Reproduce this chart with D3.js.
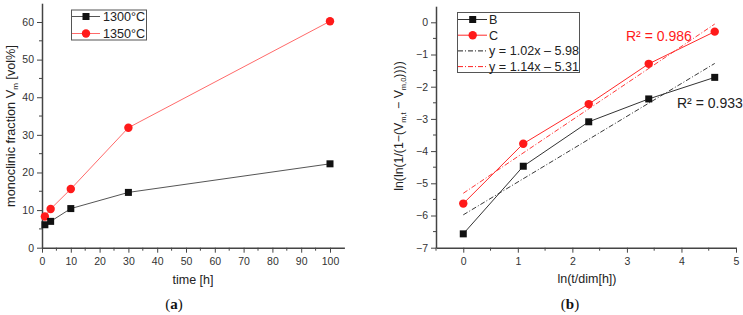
<!DOCTYPE html>
<html>
<head>
<meta charset="utf-8">
<script src="https://cdn.jsdelivr.net/npm/d3@7"></script>
<style>
body { margin: 0; background: #fff; }
text { font-family: "Liberation Sans", Arial, sans-serif; }
</style>
</head>
<body>
<svg id="chart" width="743" height="315"></svg>
<script>
// panel (a)
var timeH = [1, 3, 10, 30, 100];
var frac1300 = [6.1, 7.0, 10.4, 14.7, 22.3];
var frac1350 = [8.3, 10.3, 15.6, 31.9, 60.2];
var ticksA_x = [0, 10, 20, 30, 40, 50, 60, 70, 80, 90, 100];
var ticksA_y = [0, 10, 20, 30, 40, 50, 60];

// panel (b)
var lnT = [0, 1.10, 2.30, 3.40, 4.61];
var valB = [-6.57, -4.47, -3.09, -2.38, -1.71];
var valC = [-5.63, -3.77, -2.54, -1.29, -0.29];
var fitB = {slope: 1.02, icpt: -5.98, label: "y = 1.02x \u2013 5.98"};
var fitC = {slope: 1.14, icpt: -5.31, label: "y = 1.14x \u2013 5.31"};
var fitRange = [0, 4.61];
var ticksB_x = [0, 1, 2, 3, 4, 5];
var ticksB_y = [0, -1, -2, -3, -4, -5, -6, -7];

var svg = d3.select("#chart");
var axisCol = "#444";

function drawAxes(g, x, y, xt, yt, xminor, yminor, fmt) {
    var xr = x.range(), yr = y.range();
    // minor ticks
    g.selectAll(".mx").data(xminor).enter().append("line")
        .attr("x1", d => x(d)).attr("x2", d => x(d))
        .attr("y1", yr[0]).attr("y2", yr[0] + 3)
        .attr("stroke", axisCol).attr("stroke-width", 1);
    g.selectAll(".my").data(yminor).enter().append("line")
        .attr("y1", d => y(d)).attr("y2", d => y(d))
        .attr("x1", xr[0]).attr("x2", xr[0] - 3)
        .attr("stroke", axisCol).attr("stroke-width", 1);
    var xa = g.append("g").attr("transform", "translate(0," + yr[0] + ")")
        .call(d3.axisBottom(x).tickValues(xt).tickSize(5).tickSizeOuter(0).tickFormat(fmt));
    var ya = g.append("g").attr("transform", "translate(" + xr[0] + ",0)")
        .call(d3.axisLeft(y).tickValues(yt).tickSize(5).tickSizeOuter(0).tickFormat(fmt));
    [xa, ya].forEach(function(a) {
        a.select(".domain").attr("stroke", axisCol).attr("stroke-width", 1.5);
        a.selectAll(".tick line").attr("stroke", axisCol).attr("stroke-width", 1);
        a.selectAll(".tick text").attr("font-size", 10.5).attr("fill", "#333")
            .style("font-family", "'Liberation Sans', Arial, sans-serif");
    });
    xa.selectAll(".tick text").attr("dy", "0.9em");
}

function markers(g, xs, ys, type, color) {
    var pts = xs.map((d, i) => [d, ys[i]]);
    if (type === "square") {
        g.selectAll(null).data(pts).enter().append("rect")
            .attr("x", d => d[0] - 3.5).attr("y", d => d[1] - 3.5)
            .attr("width", 7).attr("height", 7).attr("fill", color);
    } else {
        g.selectAll(null).data(pts).enter().append("circle")
            .attr("cx", d => d[0]).attr("cy", d => d[1]).attr("r", 4.2).attr("fill", color);
    }
}

// ---------- panel (a) ----------
var gA = svg.append("g");
var xA = d3.scaleLinear().domain([0, 105]).range([42, 344.4]);
var yA = d3.scaleLinear().domain([0, 65]).range([247.7, 3.2]);
drawAxes(gA, xA, yA, ticksA_x, ticksA_y,
    d3.range(5, 105, 10), d3.range(5, 65, 10), d3.format("d"));

var lineA = d3.line().x(d => xA(d[0])).y(d => yA(d[1]));
gA.append("path").datum(timeH.map((t, i) => [t, frac1350[i]]))
    .attr("d", lineA).attr("fill", "none").attr("stroke", "#ff6a6a").attr("stroke-width", 1);
gA.append("path").datum(timeH.map((t, i) => [t, frac1300[i]]))
    .attr("d", lineA).attr("fill", "none").attr("stroke", "#555").attr("stroke-width", 1);
markers(gA, timeH.map(xA), frac1350.map(yA), "circle", "#ff1a1a");
markers(gA, timeH.map(xA), frac1300.map(yA), "square", "#111");

// legend (a)
var legA = gA.append("g");
legA.append("rect").attr("x", 71.5).attr("y", 10).attr("width", 75).attr("height", 30)
    .attr("fill", "#fff").attr("stroke", "#555").attr("stroke-width", 1);
[["1300\u00b0C", "#555", "#111", "square"], ["1350\u00b0C", "#ff6a6a", "#ff1a1a", "circle"]].forEach(function(r, i) {
    var yy = 16.5 + i * 17;
    legA.append("line").attr("x1", 72).attr("x2", 100).attr("y1", yy).attr("y2", yy)
        .attr("stroke", r[1]).attr("stroke-width", 1);
    markers(legA, [86], [yy], r[3], r[2]);
    legA.append("text").attr("x", 103).attr("y", yy + 4.5).attr("font-size", 12.6)
        .attr("fill", "#222").text(r[0]);
});

// axis titles (a)
gA.append("text").attr("transform", "translate(15,126) rotate(-90)")
    .attr("text-anchor", "middle").attr("font-size", 12.7).attr("fill", "#222")
    .html('monoclinic fraction V<tspan font-size="8" dy="3">m</tspan><tspan dy="-3"> [vol%]</tspan>');
gA.append("text").attr("x", 193).attr("y", 284).attr("text-anchor", "middle")
    .attr("font-size", 12.5).attr("fill", "#222").text("time [h]");
gA.append("text").attr("x", 174).attr("y", 309).attr("text-anchor", "middle")
    .attr("font-size", 15).attr("fill", "#111")
    .style("font-family", "'Liberation Serif', 'Times New Roman', serif")
    .html('(<tspan font-weight="bold">a</tspan>)');

// ---------- panel (b) ----------
var gB = svg.append("g");
var xB = d3.scaleLinear().domain([-0.5, 5]).range([436, 736]);
var yB = d3.scaleLinear().domain([-7, 0.5]).range([247.7, 6.2]);
drawAxes(gB, xB, yB, ticksB_x, ticksB_y,
    d3.range(-0.5, 5, 1), d3.range(-6.5, 0.5, 1), d3.format("d"));

var lineB = d3.line().x(d => xB(d[0])).y(d => yB(d[1]));
function fitPts(f) { return fitRange.map(x => [x, f.slope * x + f.icpt]); }
gB.append("path").datum(fitPts(fitB)).attr("d", lineB).attr("fill", "none")
    .attr("stroke", "#222").attr("stroke-width", 0.9).attr("stroke-dasharray", "5,2,1,2");
gB.append("path").datum(fitPts(fitC)).attr("d", lineB).attr("fill", "none")
    .attr("stroke", "#ff2020").attr("stroke-width", 0.9).attr("stroke-dasharray", "5,2,1,2");
gB.append("path").datum(lnT.map((t, i) => [t, valC[i]])).attr("d", lineB)
    .attr("fill", "none").attr("stroke", "#ff2a2a").attr("stroke-width", 1);
gB.append("path").datum(lnT.map((t, i) => [t, valB[i]])).attr("d", lineB)
    .attr("fill", "none").attr("stroke", "#333").attr("stroke-width", 1);
markers(gB, lnT.map(xB), valC.map(yB), "circle", "#ff1a1a");
markers(gB, lnT.map(xB), valB.map(yB), "square", "#111");

// legend (b)
var legB = gB.append("g");
legB.append("rect").attr("x", 457.5).attr("y", 12.5).attr("width", 122).attr("height", 60)
    .attr("fill", "#fff").attr("stroke", "#555").attr("stroke-width", 1);
var legRows = [
    {t: "B", c: "#333", m: "square", mc: "#111", dash: null},
    {t: "C", c: "#ff2a2a", m: "circle", mc: "#ff1a1a", dash: null},
    {t: fitB.label, c: "#222", m: null, dash: "5,2,1,2"},
    {t: fitC.label, c: "#ff2020", m: null, dash: "5,2,1,2"}
];
legRows.forEach(function(r, i) {
    var yy = 19.5 + i * 15.7;
    legB.append("line").attr("x1", 458).attr("x2", 487).attr("y1", yy).attr("y2", yy)
        .attr("stroke", r.c).attr("stroke-width", 1).attr("stroke-dasharray", r.dash);
    if (r.m) markers(legB, [472.7], [yy], r.m, r.mc);
    legB.append("text").attr("x", 489).attr("y", yy + 4.5).attr("font-size", 12.6)
        .attr("fill", "#222").text(r.t);
});

gB.append("text").attr("x", 626).attr("y", 40.5).attr("font-size", 14)
    .attr("fill", "#ff1a1a").text("R\u00b2 = 0.986");
gB.append("text").attr("x", 677).attr("y", 107.5).attr("font-size", 14)
    .attr("fill", "#222").text("R\u00b2 = 0.933");

// axis titles (b)
gB.append("text").attr("transform", "translate(403,126) rotate(-90)")
    .attr("text-anchor", "middle").attr("font-size", 12.3).attr("fill", "#222")
    .html('ln(ln(1/(1\u2212(V<tspan font-size="7.5" dy="3">m,t</tspan><tspan dy="-3"> \u2212 V</tspan><tspan font-size="7.5" dy="3">m,0</tspan><tspan dy="-3">))))</tspan>');
gB.append("text").attr("x", 587).attr("y", 283).attr("text-anchor", "middle")
    .attr("font-size", 12.5).attr("fill", "#222").text("ln(t/dim[h])");
gB.append("text").attr("x", 570).attr("y", 309).attr("text-anchor", "middle")
    .attr("font-size", 15).attr("fill", "#111")
    .style("font-family", "'Liberation Serif', 'Times New Roman', serif")
    .html('(<tspan font-weight="bold">b</tspan>)');
</script>
</body>
</html>
